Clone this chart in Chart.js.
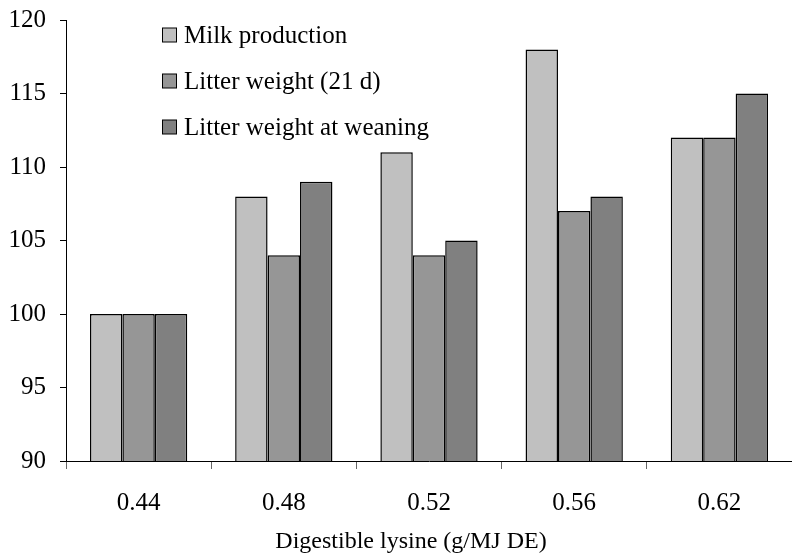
<!DOCTYPE html>
<html>
<head>
<meta charset="utf-8">
<script src="https://cdn.jsdelivr.net/npm/chart.js@4/dist/chart.umd.min.js"></script>
<style>
  html, body { margin: 0; padding: 0; background: #fff; }
  #wrap { width: 792px; height: 553px; }
</style>
</head>
<body>
<div id="wrap"><canvas id="chart"></canvas></div>
<script>
// Lisina digestible vs. respuesta relativa (100 = 0.44)
const categories = ['0.44', '0.48', '0.52', '0.56', '0.62'];
const seriesNames = ['Milk production', 'Litter weight (21 d)', 'Litter weight at weaning'];
const milkProduction = [100, 108, 111, 118, 112];
const litterWeight21d = [100, 104, 104, 107, 112];
const litterWeightWeaning = [100, 109, 105, 108, 115];
const yTicks = [90, 95, 100, 105, 110, 115, 120];
const xTitle = 'Digestible lysine (g/MJ DE)';

const fills = ['#c0c0c0', '#969696', '#808080'];
const serif = "'Liberation Serif', 'DejaVu Serif', serif";

// Leyenda dentro del área del gráfico y título del eje X un poco a la izquierda
const insideLegend = {
    id: 'insideLegend',
    afterDraw(chart) {
        const ctx = chart.ctx;
        ctx.save();
        ctx.font = '25px ' + serif;
        ctx.textBaseline = 'middle';
        chart.data.datasets.forEach((ds, i) => {
            const y = 35 + i * 46;
            ctx.fillStyle = ds.backgroundColor;
            ctx.fillRect(162.5, y - 7, 14, 14);
            ctx.strokeStyle = '#000';
            ctx.lineWidth = 1;
            ctx.strokeRect(162.5, y - 7, 14, 14);
            ctx.fillStyle = '#000';
            ctx.fillText(ds.label, 184, y + 1);
        });
        ctx.font = '24px ' + serif;
        ctx.textAlign = 'center';
        ctx.fillText(xTitle, 411, 542);
        ctx.restore();
    }
};

const seriesData = [milkProduction, litterWeight21d, litterWeightWeaning];

new Chart(document.getElementById('chart'), {
    type: 'bar',
    plugins: [insideLegend],
    data: {
        labels: categories,
        datasets: seriesData.map((d, i) => ({
            label: seriesNames[i],
            data: d,
            backgroundColor: fills[i],
            borderColor: '#000',
            borderWidth: 1.5,
            borderSkipped: 'bottom',
            categoryPercentage: 0.67,
            barPercentage: 1.0
        }))
    },
    options: {
        responsive: true,
        maintainAspectRatio: false,
        animation: false,
        layout: { padding: { top: 20, right: 0, left: 0, bottom: 0 } },
        plugins: {
            legend: { display: false },
            tooltip: { enabled: false }
        },
        scales: {
            x: {
                grid: {
                    drawOnChartArea: false,
                    offset: true,
                    tickLength: 8,
                    color: '#666'
                },
                border: { color: '#000', width: 1 },
                ticks: {
                    color: '#000',
                    padding: 19,
                    font: { family: serif, size: 25 }
                },
                afterFit(scale) {
                    scale.height = 92;
                    scale.paddingLeft = 0;
                    scale.paddingRight = 0;
                }
            },
            y: {
                min: 90,
                max: 120,
                grid: {
                    drawOnChartArea: false,
                    tickLength: 6,
                    color: '#000'
                },
                border: { color: '#000', width: 1 },
                afterBuildTicks(scale) {
                    scale.ticks = yTicks.map(v => ({ value: v }));
                },
                ticks: {
                    color: '#000',
                    padding: 14,
                    font: { family: serif, size: 25 }
                },
                afterFit(scale) {
                    scale.width = 66;
                    scale.paddingTop = 0;
                    scale.paddingBottom = 0;
                }
            }
        }
    }
});
</script>
</body>
</html>
